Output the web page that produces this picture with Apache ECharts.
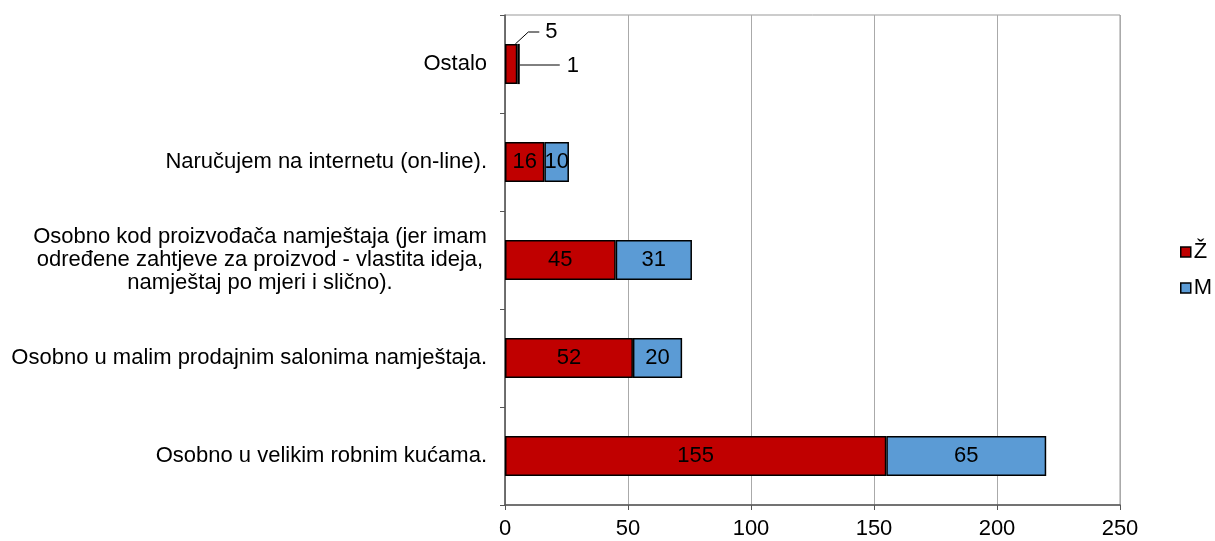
<!DOCTYPE html>
<html><head><meta charset="utf-8">
<script src="https://cdn.jsdelivr.net/npm/echarts@6/dist/echarts.min.js"></script>
<style>html,body{margin:0;padding:0;background:#fff}#c{width:1215px;height:541px}</style>
</head><body><div id="c"></div>
<script>
const categories = [
  'Osobno u velikim robnim kućama.',
  'Osobno u malim prodajnim salonima namještaja.',
  'Osobno kod proizvođača namještaja (jer imam\nodređene zahtjeve za proizvod - vlastita ideja,\nnamještaj po mjeri i slično).',
  'Naručujem na internetu (on-line).',
  'Ostalo'
];
const seriesNames = ['Ž', 'M'];
const zValues = [155, 52, 45, 16, 5];
const mValues = [65, 20, 31, 10, 1];
const xTicks = [0, 50, 100, 150, 200, 250];

const chart = echarts.init(document.getElementById('c'));
const font = 'Liberation Sans, Arial, sans-serif';
const FS = 22;
function mk(name, vals, color) {
  return {
    name, type: 'bar', stack: 'a', data: vals,
    barCategoryGap: '59%',
    itemStyle: { color, borderColor: '#000', borderWidth: 1.5 },
    label: {
      show: true, position: 'inside', color: '#000', fontSize: FS, fontFamily: font,
      formatter: p => p.dataIndex === 4 ? '' : p.value
    },
    emphasis: { disabled: true },
    animation: false
  };
}
const option = {
  animation: false,
  textStyle: { fontFamily: font },
  grid: { left: 505, right: 95, top: 15, bottom: 36, show: true, borderColor: '#999', borderWidth: 1 },
  legend: {
    orient: 'vertical', left: 1180, top: 241, itemGap: 14, padding: 0,
    itemWidth: 10, itemHeight: 10, icon: 'rect',
    textStyle: { fontSize: FS, color: '#000', fontFamily: font, padding: [0,0,0,-2] },
    data: seriesNames.map(n => ({ name: n, itemStyle: { borderColor: '#000', borderWidth: 1.5 } }))
  },
  xAxis: {
    type: 'value', min: 0, max: 250, interval: 50,
    axisLine: { show: true, lineStyle: { color: '#555', width: 1.5 } },
    axisTick: { show: true, length: 5, lineStyle: { color: '#555' } },
    axisLabel: { fontSize: FS, color: '#000', margin: 13, fontFamily: font,
      formatter: v => xTicks.includes(v) ? String(v) : '' },
    splitLine: { show: true, lineStyle: { color: '#aaa', width: 1 } }
  },
  yAxis: {
    type: 'category', data: categories,
    axisLine: { show: true, lineStyle: { color: '#555', width: 1.5 } },
    axisTick: { show: true, length: 5, lineStyle: { color: '#555' } },
    axisLabel: {
      fontSize: FS, color: '#000', margin: 18, lineHeight: 23, align: 'right', fontFamily: font,
      formatter: v => v.includes('\n') ? v.split('\n').map(l => '{c|' + l + '}').join('\n') : v,
      rich: { c: { width: 454, align: 'center', fontSize: FS, lineHeight: 23, fontFamily: font, color: '#000' } }
    }
  },
  series: [
    mk(seriesNames[0], zValues, '#C00000'),
    mk(seriesNames[1], mValues, '#5B9BD5')
  ]
};
chart.setOption(option);

// Outside labels with leader lines for the small "Ostalo" bars, placed via the library's scales
const idx = 4;
const zEnd = chart.convertToPixel({ xAxisIndex: 0, yAxisIndex: 0 }, [zValues[idx], idx]);
const mEnd = chart.convertToPixel({ xAxisIndex: 0, yAxisIndex: 0 }, [zValues[idx] + mValues[idx], idx]);
const halfBar = 20;
chart.setOption({
  graphic: [
    { type: 'polyline', shape: { points: [[zEnd[0] - 2, zEnd[1] - halfBar], [zEnd[0] + 11, zEnd[1] - halfBar - 12], [zEnd[0] + 22, zEnd[1] - halfBar - 12]] }, style: { stroke: '#000', lineWidth: 1, fill: null } },
    { type: 'text', x: zEnd[0] + 28, y: zEnd[1] - halfBar - 23, style: { text: String(zValues[idx]), fontSize: FS, fontFamily: font, fill: '#000' } },
    { type: 'line', shape: { x1: mEnd[0], y1: mEnd[1] + 1, x2: mEnd[0] + 40, y2: mEnd[1] + 1 }, style: { stroke: '#000', lineWidth: 1 } },
    { type: 'text', x: mEnd[0] + 47, y: mEnd[1] - 9, style: { text: String(mValues[idx]), fontSize: FS, fontFamily: font, fill: '#000' } }
  ]
});
</script></body></html>
